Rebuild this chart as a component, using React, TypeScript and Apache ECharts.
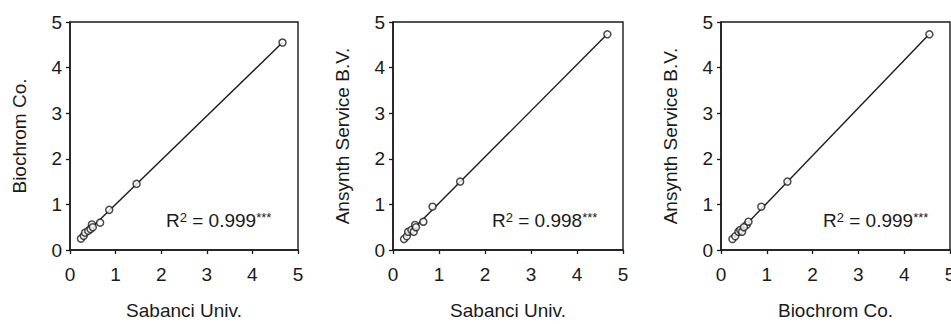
import React, { useEffect, useRef } from "react";
import * as echarts from "echarts";

// Per-sample concentrations measured by each laboratory
const sabanci = [0.24, 0.3, 0.33, 0.4, 0.45, 0.48, 0.5, 0.66, 0.86, 1.46, 4.66];
const biochrom = [0.25, 0.31, 0.38, 0.42, 0.46, 0.56, 0.5, 0.6, 0.88, 1.45, 4.55];
const ansynth = [0.24, 0.3, 0.4, 0.44, 0.4, 0.55, 0.5, 0.62, 0.95, 1.5, 4.73];

const axisMin = 0;
const axisMax = 5;
const axisInterval = 1;

const xNames = ["Sabanci Univ.", "Sabanci Univ.", "Biochrom Co."];
const yNames = ["Biochrom Co.", "Ansynth Service B.V.", "Ansynth Service B.V."];
const r2Values = ["0.999", "0.998", "0.999"];

const xSeries = [sabanci, sabanci, biochrom];
const ySeries = [biochrom, ansynth, ansynth];

// layout (pixels)
const grids = [
  { left: 70, top: 22, width: 228, height: 228 },
  { left: 393, top: 22, width: 230, height: 228 },
  { left: 721, top: 22, width: 229, height: 228 },
];
const r2Pos = [
  { x: 166, y: 230 },
  { x: 492, y: 230 },
  { x: 823, y: 230 },
];

const FONT = "'Liberation Sans', Arial, Helvetica, sans-serif";
const INK = "#1a1a1a";

function fit(xs: number[], ys: number[]) {
  const n = xs.length;
  const mx = xs.reduce((a, b) => a + b, 0) / n;
  const my = ys.reduce((a, b) => a + b, 0) / n;
  let sxy = 0;
  let sxx = 0;
  for (let i = 0; i < n; i++) {
    sxy += (xs[i] - mx) * (ys[i] - my);
    sxx += (xs[i] - mx) * (xs[i] - mx);
  }
  const b = sxy / sxx;
  const a = my - b * mx;
  const x0 = Math.min(...xs);
  const x1 = Math.max(...xs);
  return [
    [x0, a + b * x0],
    [x1, a + b * x1],
  ];
}

export default function App() {
  const ref = useRef<HTMLDivElement>(null);

  useEffect(() => {
    if (!ref.current) return;
    const chart = echarts.init(ref.current, null, { renderer: "svg" });

    const axisCommon = {
      type: "value" as const,
      min: axisMin,
      max: axisMax,
      interval: axisInterval,
      splitLine: { show: false },
      axisLine: { show: true, lineStyle: { color: INK, width: 1.5 } },
      axisTick: { show: true, inside: false, length: 4, lineStyle: { color: INK, width: 1.3 } },
      nameLocation: "middle" as const,
      nameTextStyle: { fontFamily: FONT, fontSize: 19, color: INK },
    };

    const option: any = {
      animation: false,
      backgroundColor: "#ffffff",
      grid: grids.map((g) => ({
        ...g,
        containLabel: false,
        outerBoundsMode: "none",
        show: true,
        borderColor: INK,
        borderWidth: 1.4,
        backgroundColor: "transparent",
      })),
      xAxis: grids.map((_, i) => ({
        ...axisCommon,
        gridIndex: i,
        name: xNames[i],
        nameGap: 51,
        axisLabel: { fontFamily: FONT, fontSize: 19, color: INK, margin: 15 },
      })),
      yAxis: grids.map((_, i) => ({
        ...axisCommon,
        gridIndex: i,
        name: yNames[i],
        nameGap: 41,
        axisLabel: { fontFamily: FONT, fontSize: 19, color: INK, margin: 8 },
      })),
      series: [
        ...grids.map((_, i) => ({
          type: "line",
          xAxisIndex: i,
          yAxisIndex: i,
          data: fit(xSeries[i], ySeries[i]),
          symbol: "none",
          lineStyle: { color: INK, width: 1.4 },
          z: 2,
        })),
        ...grids.map((_, i) => ({
          type: "scatter",
          xAxisIndex: i,
          yAxisIndex: i,
          data: xSeries[i].map((x, k) => [x, ySeries[i][k]]),
          symbol: "circle",
          symbolSize: 7,
          itemStyle: { color: "#ffffff", borderColor: INK, borderWidth: 1.5 },
          z: 3,
        })),
      ],
      graphic: r2Pos.map((p, i) => ({
        type: "text",
        x: p.x,
        y: p.y,
        style: {
          text: `R{sup|2} = ${r2Values[i]}{sup|***}`,
          fontFamily: FONT,
          fontSize: 19,
          fill: INK,
          verticalAlign: "bottom",
          rich: {
            sup: { fontSize: 13, fontFamily: FONT, fill: INK, verticalAlign: "top" },
          },
        },
      })),
    };

    chart.setOption(option);
    return () => chart.dispose();
  }, []);

  return (
    <div
      ref={ref}
      style={{ position: "fixed", left: 0, top: 0, width: 951, height: 324, background: "#fff" }}
    />
  );
}
